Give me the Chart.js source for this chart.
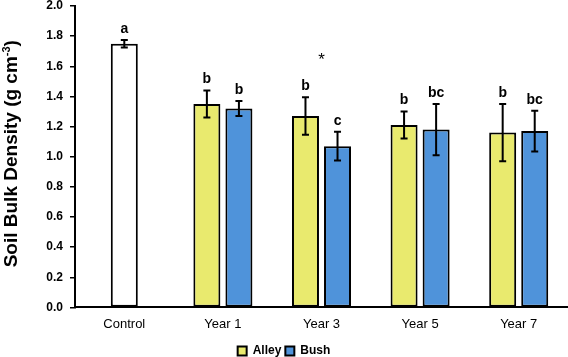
<!DOCTYPE html>
<html>
<head>
<meta charset="utf-8">
<script src="https://cdn.jsdelivr.net/npm/chart.js@4.4.0/dist/chart.umd.min.js"></script>
<style>
  html, body { margin: 0; padding: 0; background: #fff; }
  #wrap { width: 568px; height: 357px; }
</style>
</head>
<body>
<div id="wrap"><canvas id="barChart"></canvas></div>
<script>
// categories and values
var categories = ['Control', 'Year 1', 'Year 3', 'Year 5', 'Year 7'];
var controlMean = [1.75, null, null, null, null];
var controlErr  = [0.025, null, null, null, null];
var alleyMean   = [null, 1.35, 1.27, 1.21, 1.16];
var alleyErr    = [null, 0.09, 0.125, 0.09, 0.19];
var bushMean    = [null, 1.32, 1.07, 1.18, 1.17];
var bushErr     = [null, 0.05, 0.095, 0.17, 0.135];

// letters of significance
var controlLetters = ['a', null, null, null, null];
var alleyLetters   = [null, 'b', 'b', 'b', 'b'];
var bushLetters    = [null, 'b', 'c', 'bc', 'bc'];
var starCategory = 'Year 3';
var starValue = 1.64;

var yTicks = [0, 0.2, 0.4, 0.6, 0.8, 1.0, 1.2, 1.4, 1.6, 1.8, 2.0];

var errors = [controlErr, alleyErr, bushErr];
var letters = [controlLetters, alleyLetters, bushLetters];

// barres d'erreur + lettres
var errorBarPlugin = {
    id: 'errorBars',
    afterDatasetsDraw: function(chart) {
        var ctx = chart.ctx;
        var yScale = chart.scales.y;
        ctx.save();
        chart.data.datasets.forEach(function(ds, i) {
            var meta = chart.getDatasetMeta(i);
            meta.data.forEach(function(bar, j) {
                var v = ds.data[j];
                var e = errors[i][j];
                if (v === null || e === null) return;
                var yTop = yScale.getPixelForValue(v + e);
                var yBot = yScale.getPixelForValue(v - e);
                ctx.strokeStyle = '#000';
                ctx.lineWidth = 2;
                ctx.beginPath();
                ctx.moveTo(bar.x, yTop); ctx.lineTo(bar.x, yBot);
                ctx.moveTo(bar.x - 3.5, yTop); ctx.lineTo(bar.x + 3.5, yTop);
                ctx.moveTo(bar.x - 3.5, yBot); ctx.lineTo(bar.x + 3.5, yBot);
                ctx.stroke();
                var lab = letters[i][j];
                if (lab) {
                    ctx.fillStyle = '#000';
                    ctx.font = 'bold 14px "Liberation Sans", Arial, sans-serif';
                    ctx.textAlign = 'center';
                    ctx.textBaseline = 'alphabetic';
                    ctx.fillText(lab, bar.x, yTop - 7);
                }
            });
        });
        // asterisk
        var xs = chart.scales.x.getPixelForValue(categories.indexOf(starCategory));
        ctx.fillStyle = '#000';
        ctx.font = '17px "Liberation Sans", Arial, sans-serif';
        ctx.textAlign = 'center';
        ctx.textBaseline = 'middle';
        ctx.fillText('*', xs, yScale.getPixelForValue(starValue));
        ctx.restore();
    },
    afterDraw: function(chart) {
        // titre de l'axe Y avec exposant
        var ctx = chart.ctx;
        var area = chart.chartArea;
        var main = 'Soil Bulk Density (g cm';
        var sup = '-3';
        var end = ')';
        ctx.save();
        ctx.fillStyle = '#000';
        ctx.font = 'bold 19px "Liberation Sans", Arial, sans-serif';
        var w1 = ctx.measureText(main).width;
        var w3 = ctx.measureText(end).width;
        ctx.font = 'bold 11px "Liberation Sans", Arial, sans-serif';
        var w2 = ctx.measureText(sup).width;
        var total = w1 + w2 + w3;
        ctx.translate(17, (area.top + area.bottom) / 2 - 3);
        ctx.rotate(-Math.PI / 2);
        ctx.textBaseline = 'alphabetic';
        ctx.textAlign = 'left';
        var x0 = -total / 2;
        ctx.font = 'bold 19px "Liberation Sans", Arial, sans-serif';
        ctx.fillText(main, x0, 0);
        ctx.font = 'bold 11px "Liberation Sans", Arial, sans-serif';
        ctx.fillText(sup, x0 + w1, -7);
        ctx.font = 'bold 19px "Liberation Sans", Arial, sans-serif';
        ctx.fillText(end, x0 + w1 + w2, 0);
        ctx.restore();
    }
};

var ctx = document.getElementById('barChart').getContext('2d');
var chart = new Chart(ctx, {
    type: 'bar',
    data: {
        labels: categories,
        datasets: [{
            label: 'Control',
            data: controlMean,
            backgroundColor: '#ffffff',
            borderColor: '#000000',
            borderWidth: 2,
            borderSkipped: false,
            skipNull: true
        }, {
            label: 'Alley',
            data: alleyMean,
            backgroundColor: '#E9EA6E',
            borderColor: '#000000',
            borderWidth: 2,
            borderSkipped: false,
            skipNull: true
        }, {
            label: 'Bush',
            data: bushMean,
            backgroundColor: '#4F93DA',
            borderColor: '#000000',
            borderWidth: 2,
            borderSkipped: false,
            skipNull: true
        }]
    },
    options: {
        responsive: true,
        maintainAspectRatio: false,
        animation: false,
        categoryPercentage: 0.65,
        barPercentage: 0.85,
        maxBarThickness: 27,
        layout: { padding: { left: 0, right: 0, top: 0, bottom: -10 } },
        scales: {
            x: {
                grid: { display: false, drawTicks: false },
                border: { display: true, color: '#000', width: 2 },
                ticks: {
                    color: '#000',
                    padding: 9,
                    font: { family: '"Liberation Sans", Arial, sans-serif', size: 13 }
                }
            },
            y: {
                min: 0,
                max: 2.0,
                afterFit: function(scale) {
                    scale.width = 75;
                    scale.paddingTop = 6;
                },
                afterBuildTicks: function(scale) {
                    scale.ticks = yTicks.map(function(v) { return { value: v }; });
                },
                grid: { drawOnChartArea: false, drawTicks: true, tickLength: 5, color: '#000', lineWidth: 1.5 },
                border: { display: true, color: '#000', width: 2 },
                ticks: {
                    color: '#000',
                    padding: 7,
                    font: { family: '"Liberation Sans", Arial, sans-serif', size: 12, weight: 'bold' },
                    callback: function(v) { return Number(v).toFixed(1); }
                }
            }
        },
        plugins: {
            legend: {
                position: 'bottom',
                labels: {
                    color: '#000',
                    boxWidth: 9,
                    boxHeight: 9,
                    padding: 4,
                    font: { family: '"Liberation Sans", Arial, sans-serif', size: 12, weight: 'bold' },
                    filter: function(item) { return item.datasetIndex !== 0; }
                }
            },
            tooltip: { enabled: false }
        }
    },
    plugins: [errorBarPlugin]
});
</script>
</body>
</html>
